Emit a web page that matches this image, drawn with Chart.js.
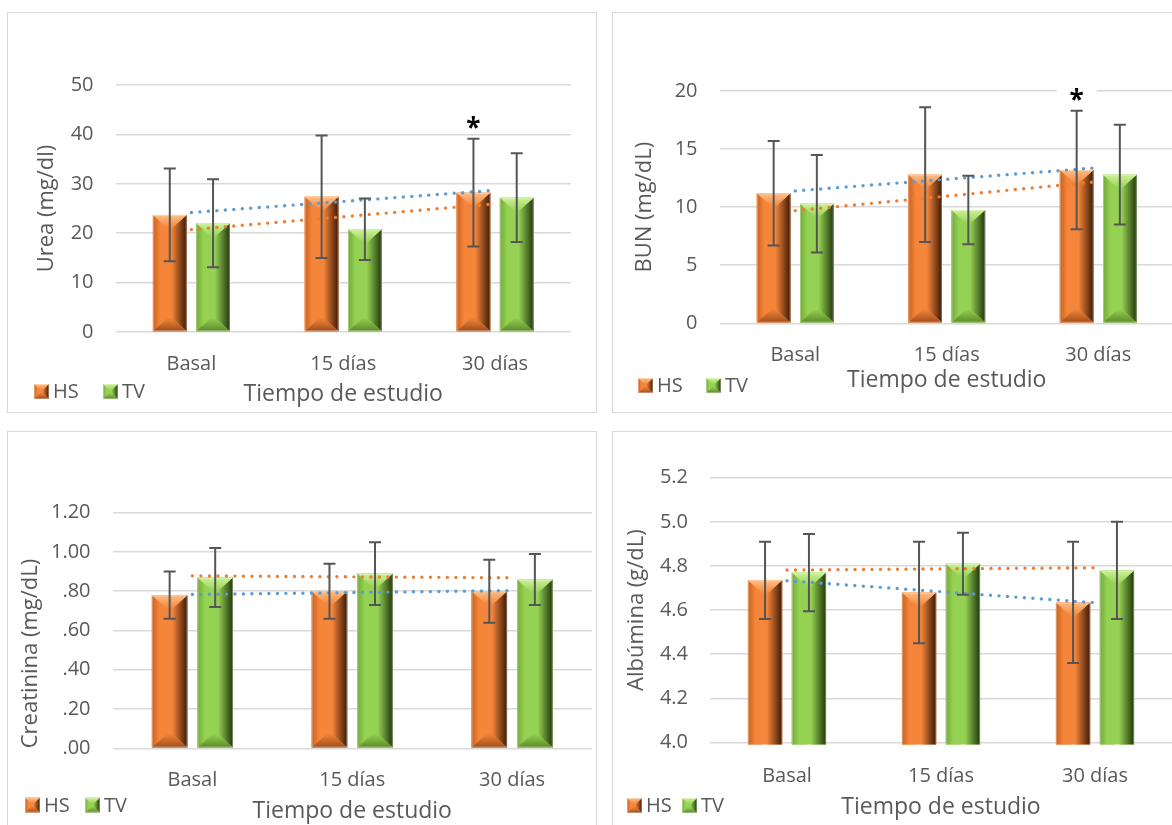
<!DOCTYPE html>
<html>
<head>
<meta charset="utf-8">
<script src="https://cdn.jsdelivr.net/npm/chart.js@4.4.1/dist/chart.umd.min.js"></script>
<style>
  html, body { margin: 0; padding: 0; background: #fff; width: 1172px; height: 825px; overflow: hidden; position: relative; }
  .panel { position: absolute; border: 1.5px solid #d9d9d9; box-sizing: border-box; }
  canvas { position: absolute; }
</style>
</head>
<body>
<div class="panel" style="left:7px;top:12px;width:590px;height:401px"></div>
<div class="panel" style="left:612px;top:12px;width:600px;height:401px"></div>
<div class="panel" style="left:7px;top:431px;width:590px;height:420px"></div>
<div class="panel" style="left:612px;top:431px;width:600px;height:420px"></div>

<canvas id="urea" width="587" height="398" style="left:8px;top:13px"></canvas>
<canvas id="bun" width="600" height="398" style="left:613px;top:13px"></canvas>
<canvas id="creat" width="587" height="420" style="left:8px;top:432px"></canvas>
<canvas id="alb" width="600" height="420" style="left:613px;top:432px"></canvas>

<script>
// Study time points and groups
const categories = ['Basal', '15 días', '30 días'];
const seriesNames = ['HS', 'TV'];

// Urea (mg/dl): means and standard deviations
const ureaHS   = [23.7, 27.4, 28.2];
const ureaTV   = [22.0, 20.8, 27.2];
const ureaHSsd = [9.4, 12.4, 10.9];
const ureaTVsd = [8.9, 6.2, 9.0];
const ureaTicks = ['0', '10', '20', '30', '40', '50'];

// BUN (mg/dL)
const bunHS   = [11.2, 12.8, 13.2];
const bunTV   = [10.3, 9.75, 12.8];
const bunHSsd = [4.5, 5.8, 5.1];
const bunTVsd = [4.2, 2.95, 4.3];
const bunTicks = ['0', '5', '10', '15', '20'];

// Creatinina (mg/dL)
const creatHS   = [0.78, 0.80, 0.80];
const creatTV   = [0.87, 0.89, 0.86];
const creatHSsd = [0.12, 0.14, 0.16];
const creatTVsd = [0.15, 0.16, 0.13];
const creatTicks = ['.00', '.20', '.40', '.60', '.80', '1.00', '1.20'];

// Albúmina (g/dL)
const albHS   = [4.735, 4.68, 4.635];
const albTV   = [4.77, 4.81, 4.78];
const albHSsd = [0.175, 0.23, 0.275];
const albTVsd = [0.175, 0.14, 0.22];
const albTicks = ['4.0', '4.2', '4.4', '4.6', '4.8', '5.0', '5.2'];

const FONT = "'Open Sans', 'Noto Sans', sans-serif";
const TEXT = '#595959';

const PAL = {
  HS: { base: '#F5853A', top: '#FDBE86', left: '#C9621F', right: '#3A1906', bottom: '#9E4E1A' },
  TV: { base: '#95D254', top: '#CDF198', left: '#72AA36', right: '#22360C', bottom: '#5C8A2A' }
};

// Least-squares linear trend evaluated at each category
function linearTrend(vals) {
  const n = vals.length;
  const xs = vals.map((_, i) => i + 1);
  const mx = xs.reduce((a, b) => a + b, 0) / n;
  const my = vals.reduce((a, b) => a + b, 0) / n;
  let sxy = 0, sxx = 0;
  xs.forEach((x, i) => { sxy += (x - mx) * (vals[i] - my); sxx += (x - mx) * (x - mx); });
  const b = sxy / sxx;
  return xs.map(x => my + b * (x - mx));
}

function poly(ctx, pts, fill) {
  ctx.beginPath();
  ctx.moveTo(pts[0][0], pts[0][1]);
  for (let i = 1; i < pts.length; i++) ctx.lineTo(pts[i][0], pts[i][1]);
  ctx.closePath();
  ctx.fillStyle = fill;
  ctx.fill();
}

// Column with a bevelled (pyramid-edge) look
function bevelRect(ctx, x0, y0, x1, y1, pal, depth) {
  const w = x1 - x0, h = y1 - y0;
  if (w <= 0 || h <= 0) return;
  const dx = Math.min(depth, w / 2 - 1);
  const dy = Math.min(depth * 0.9, h / 2);
  ctx.save();
  ctx.fillStyle = pal.base;
  ctx.fillRect(x0, y0, w, h);
  let g = ctx.createLinearGradient(x0, 0, x0 + dx, 0);
  g.addColorStop(0, pal.left); g.addColorStop(0.5, pal.base); g.addColorStop(1, pal.base);
  poly(ctx, [[x0, y0], [x0 + dx, y0 + dy], [x0 + dx, y1 - dy], [x0, y1]], g);
  g = ctx.createLinearGradient(x1 - dx, 0, x1, 0);
  g.addColorStop(0, pal.base); g.addColorStop(1, pal.right);
  poly(ctx, [[x1, y0], [x1 - dx, y0 + dy], [x1 - dx, y1 - dy], [x1, y1]], g);
  g = ctx.createLinearGradient(0, y0, 0, y0 + dy);
  g.addColorStop(0, pal.top); g.addColorStop(1, pal.base);
  poly(ctx, [[x0, y0], [x1, y0], [x1 - dx, y0 + dy], [x0 + dx, y0 + dy]], g);
  g = ctx.createLinearGradient(0, y1 - dy, 0, y1);
  g.addColorStop(0, pal.base); g.addColorStop(1, pal.bottom);
  poly(ctx, [[x0, y1], [x1, y1], [x1 - dx, y1 - dy], [x0 + dx, y1 - dy]], g);
  ctx.strokeStyle = 'rgba(255,255,255,0.35)';
  ctx.lineWidth = 1;
  ctx.strokeRect(x0 + 0.5, y0 + 0.5, w - 1, h - 1);
  ctx.restore();
}

const bevelPlugin = {
  id: 'bevel',
  afterDatasetDraw(chart, args) {
    const ds = chart.data.datasets[args.index];
    if (ds.type !== 'bar') return;
    const ctx = chart.ctx;
    ctx.save();
    ctx.beginPath();
    ctx.rect(chart.chartArea.left, chart.chartArea.top - 2, chart.chartArea.width, chart.chartArea.height + 4);
    ctx.clip();
    args.meta.data.forEach(el => {
      const p = el.getProps(['x', 'y', 'base', 'width'], true);
      bevelRect(ctx, p.x - p.width / 2, Math.min(p.y, p.base), p.x + p.width / 2, Math.max(p.y, p.base), PAL[ds.label], 15);
    });
    ctx.restore();
  }
};

const errorBarPlugin = {
  id: 'errorBars',
  afterDatasetsDraw(chart, args, opts) {
    const ctx = chart.ctx;
    const y = chart.scales.y;
    ctx.save();
    chart.data.datasets.forEach((ds, di) => {
      if (ds.type !== 'bar' || !ds.sd) return;
      const meta = chart.getDatasetMeta(di);
      meta.data.forEach((el, i) => {
        const v = ds.data[i], s = ds.sd[i];
        const x = el.x;
        const yt = y.getPixelForValue(v + s);
        const yb = y.getPixelForValue(v - s);
        ctx.strokeStyle = '#555555';
        ctx.lineWidth = 2;
        ctx.beginPath();
        ctx.moveTo(x, yt); ctx.lineTo(x, yb);
        ctx.moveTo(x - 6, yt); ctx.lineTo(x + 6, yt);
        ctx.moveTo(x - 6, yb); ctx.lineTo(x + 6, yb);
        ctx.stroke();
      });
    });
    // significance mark
    if (opts.star) {
      const di = opts.star.dataset, i = opts.star.index;
      const ds = chart.data.datasets[di];
      const el = chart.getDatasetMeta(di).data[i];
      const cy = y.getPixelForValue(ds.data[i] + ds.sd[i]) - 17;
      ctx.fillStyle = '#ffffff';
      ctx.fillRect(el.x - 20, cy - 8, 40, 16);
      ctx.fillStyle = '#000000';
      ctx.font = "bold 26px " + FONT;
      ctx.textAlign = 'center';
      ctx.textBaseline = 'alphabetic';
      ctx.fillText('*', el.x, cy + 15);
    }
    ctx.restore();
  }
};

const legendPlugin = {
  id: 'sideLegend',
  afterDraw(chart, args, opts) {
    const ctx = chart.ctx;
    ctx.save();
    ctx.font = "20px " + FONT;
    ctx.fillStyle = TEXT;
    ctx.textBaseline = 'middle';
    ctx.textAlign = 'left';
    seriesNames.forEach((name, k) => {
      const bx = opts.x + k * opts.spacing;
      bevelRect(ctx, bx, opts.y - 7.5, bx + 15, opts.y + 7.5, PAL[name], 7);
      ctx.fillStyle = TEXT;
      ctx.fillText(name, bx + 19, opts.y + 1);
    });
    ctx.restore();
  }
};

function buildChart(id, c) {
  return new Chart(document.getElementById(id), {
    data: {
      labels: categories,
      datasets: [
        { type: 'bar', label: seriesNames[0], data: c.hs, sd: c.hsSd, backgroundColor: PAL.HS.base, order: 2 },
        { type: 'bar', label: seriesNames[1], data: c.tv, sd: c.tvSd, backgroundColor: PAL.TV.base, order: 2 },
        { type: 'line', label: 'Lineal (HS)', data: linearTrend(c.hs), borderColor: '#5B9BD5', borderWidth: 3.4,
          borderDash: [0, 8.5], borderCapStyle: 'round', pointRadius: 0, fill: false, order: 1 },
        { type: 'line', label: 'Lineal (TV)', data: linearTrend(c.tv), borderColor: '#ED7D31', borderWidth: 3.4,
          borderDash: [0, 8.5], borderCapStyle: 'round', pointRadius: 0, fill: false, order: 1 }
      ]
    },
    options: {
      responsive: false,
      animation: false,
      layout: { padding: c.pad },
      datasets: { bar: { categoryPercentage: 0.57, barPercentage: 0.78 } },
      plugins: {
        legend: { display: false },
        tooltip: { enabled: false },
        sideLegend: c.legend,
        errorBars: { star: c.star }
      },
      scales: {
        x: {
          grid: { display: false },
          border: { display: false },
          ticks: { padding: c.xTickPad, color: TEXT, font: { family: FONT, size: 20 } },
          title: { display: true, text: 'Tiempo de estudio', color: TEXT, font: { family: FONT, size: 23 },
                   padding: { top: 0, bottom: c.xTitlePad } },
          afterFit: s => { s.height = c.xH; }
        },
        y: {
          min: c.min, max: c.max,
          ticks: { stepSize: c.step, padding: 22, color: TEXT, font: { family: FONT, size: 20 },
                   callback: (v, i) => c.ticks[i] },
          grid: { color: '#d9d9d9', lineWidth: 1.6, drawTicks: false },
          border: { display: false },
          title: { display: true, text: c.yTitle, align: c.yAlign, color: TEXT, font: { family: FONT, size: 22 },
                   padding: { top: 0, bottom: 0 } },
          afterFit: s => { s.width = c.yW; }
        }
      }
    },
    plugins: [bevelPlugin, errorBarPlugin, legendPlugin]
  });
}

buildChart('urea', {
  hs: ureaHS, tv: ureaTV, hsSd: ureaHSsd, tvSd: ureaTVsd, ticks: ureaTicks,
  min: 0, max: 50, step: 10, yTitle: 'Urea (mg/dl)', yAlign: 'center',
  pad: { left: 26, top: 72, right: 24, bottom: 4 }, yW: 81.5, xH: 75, xTitlePad: -1, xTickPad: 12,
  legend: { x: 26, y: 378.5, spacing: 69 },
  star: { dataset: 0, index: 2 }
});

buildChart('bun', {
  hs: bunHS, tv: bunTV, hsSd: bunHSsd, tvSd: bunTVsd, ticks: bunTicks,
  min: 0, max: 20, step: 5, yTitle: 'BUN (mg/dL)', yAlign: 'center',
  pad: { left: 19, top: 78, right: 39, bottom: 12.7 }, yW: 87.5, xH: 75, xTitlePad: 4, xTickPad: 12,
  legend: { x: 25, y: 372.5, spacing: 68 },
  star: { dataset: 0, index: 2 }
});

buildChart('creat', {
  hs: creatHS, tv: creatTV, hsSd: creatHSsd, tvSd: creatTVsd, ticks: creatTicks,
  min: 0, max: 1.2, step: 0.2, yTitle: 'Creatinina (mg/dL)', yAlign: 'start',
  pad: { left: 10, top: 80.7, right: 3, bottom: 28.7 }, yW: 94.5, xH: 75, xTitlePad: -1.5, xTickPad: 12,
  legend: { x: 17, y: 373, spacing: 60 }
});

buildChart('alb', {
  hs: albHS, tv: albTV, hsSd: albHSsd, tvSd: albTVsd, ticks: albTicks,
  min: 4.0, max: 5.2, step: 0.2, yTitle: 'Albúmina (g/dL)', yAlign: 'center',
  pad: { left: 11, top: 45.7, right: 41, bottom: 31.5 }, yW: 86, xH: 78, xTitlePad: -0.5, xTickPad: 14,
  legend: { x: 14, y: 373.5, spacing: 55 }
});
</script>
</body>
</html>
